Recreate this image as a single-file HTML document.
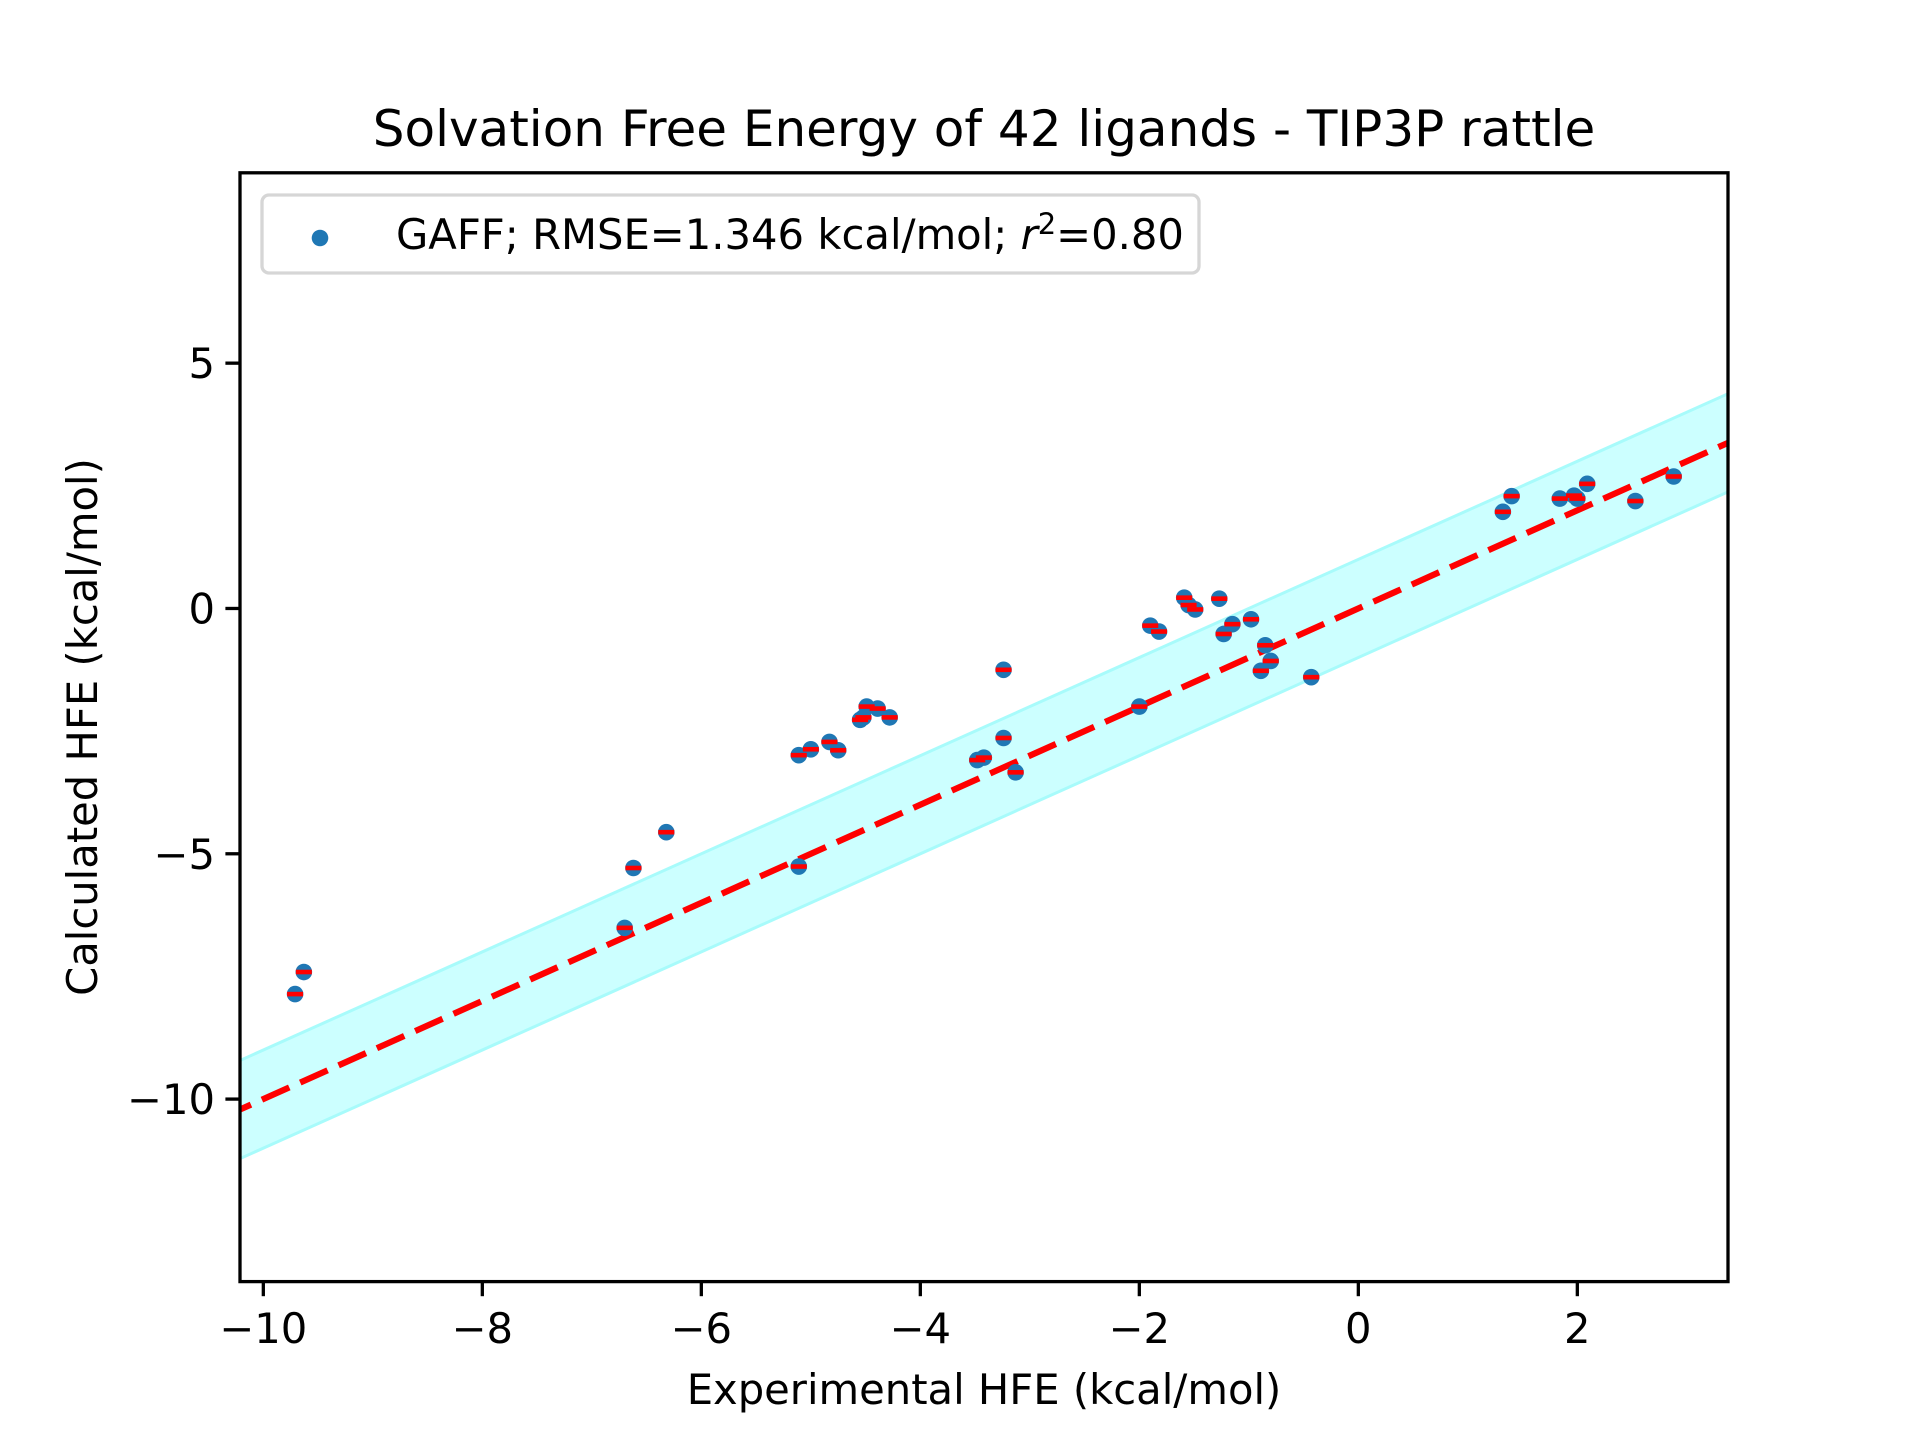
<!DOCTYPE html>
<html><head><meta charset="utf-8"><style>
html,body{margin:0;padding:0;background:#fff;}
svg{display:block;font-family:"DejaVu Sans","Liberation Sans",sans-serif;}
</style></head><body>
<svg id="chart" width="1920" height="1440" viewBox="0 0 1920 1440" xmlns="http://www.w3.org/2000/svg">
<rect width="1920" height="1440" fill="#fff"/>
<text x="984" y="146" font-size="50" text-anchor="middle">Solvation Free Energy of 42 ligands - TIP3P rattle</text>
<g id="plot"></g>
<text x="984" y="1404" font-size="41.7" text-anchor="middle">Experimental HFE (kcal/mol)</text>
<text transform="translate(97,727) rotate(-90)" font-size="41.7" text-anchor="middle">Calculated HFE (kcal/mol)</text>
</svg>
<script>
const expX = [-9.71,-9.63,-6.70,-6.62,-6.32,-5.11,-5.11,-5.00,-4.83,-4.75,-4.55,-4.49,-4.39,-4.28,-3.48,-3.42,-3.24,-3.24,-3.13,-2.00,-1.90,-1.82,-1.59,-1.55,-1.49,-1.27,-1.23,-1.15,-0.98,-0.89,-0.85,-0.80,-0.43,1.32,1.40,1.84,2.00,2.09,2.53,2.88,1.97,-4.52];
const calcY = [-7.86,-7.41,-6.51,-5.29,-4.56,-2.99,-5.26,-2.87,-2.72,-2.89,-2.27,-2.00,-2.04,-2.22,-3.09,-3.04,-1.25,-2.64,-3.34,-2.00,-0.35,-0.47,0.22,0.07,-0.02,0.20,-0.52,-0.32,-0.22,-1.27,-0.75,-1.07,-1.40,1.97,2.29,2.24,2.24,2.54,2.19,2.69,2.30,-2.22];
const xTicks = [-10,-8,-6,-4,-2,0,2];
const yTicks = [5,0,-5,-10];
const fitSlope = [1.0];
const fitIntercept = [0.0];
const bandHalf = [1.0];
const xDomain = [-10.213, 3.376];
const yDomain = [-13.72, 8.88];

const L=240,R=1728,T=172.8,B=1281.6;
const sx = v => L + (v - xDomain[0]) / (xDomain[1]-xDomain[0]) * (R-L);
const sy = v => B - (v - yDomain[0]) / (yDomain[1]-yDomain[0]) * (B-T);
const NS="http://www.w3.org/2000/svg";
const g=document.getElementById('plot');
function mk(tag, attrs){const e=document.createElementNS(NS,tag);for(const k in attrs)e.setAttribute(k,attrs[k]);g.appendChild(e);return e;}

const defs=mk('defs',{});
const cp=document.createElementNS(NS,'clipPath');cp.setAttribute('id','clip');
const cr=document.createElementNS(NS,'rect');cr.setAttribute('x',L);cr.setAttribute('y',T);cr.setAttribute('width',R-L);cr.setAttribute('height',B-T);
cp.appendChild(cr);defs.appendChild(cp);

const fy = x => fitSlope[0]*x + fitIntercept[0];
const x0=xDomain[0]-0.5, x1=xDomain[1]+0.5;
const band=mk('polygon',{points:`${sx(x0)},${sy(fy(x0)+bandHalf[0])} ${sx(x1)},${sy(fy(x1)+bandHalf[0])} ${sx(x1)},${sy(fy(x1)-bandHalf[0])} ${sx(x0)},${sy(fy(x0)-bandHalf[0])}`,fill:'#ccffff',stroke:'#a8fbfb','stroke-width':3,'clip-path':'url(#clip)'});



const fit=mk('line',{x1:sx(x0),y1:sy(fy(x0)),x2:sx(x1),y2:sy(fy(x1)),stroke:'#ff0000','stroke-width':6.2,'stroke-dasharray':'30 12','clip-path':'url(#clip)'});



for(let i=0;i<expX.length;i++){
  const c=mk('circle',{cx:sx(expX[i]),cy:sy(calcY[i]),r:8.3,fill:'#1f77b4'});
  
  
}
for(let i=0;i<expX.length;i++){
  const m=mk('rect',{x:sx(expX[i])-8,y:sy(calcY[i])-2.3,width:16,height:4.6,fill:'#ff0000'});
  
  
}

const fr=mk('rect',{x:L,y:T,width:R-L,height:B-T,fill:'none',stroke:'#000','stroke-width':3.3});



xTicks.forEach(t=>{
  const x=sx(t);
  const tk=mk('line',{x1:x,y1:B,x2:x,y2:B+14.6,stroke:'#000','stroke-width':3.3});
  
  
  const tx=mk('text',{x:x,y:1343,'font-size':41.7,'text-anchor':'middle'});
  tx.textContent=(t<0?'\u2212'+(-t):String(t));
  
  
});
yTicks.forEach(t=>{
  const y=sy(t);
  const tk=mk('line',{x1:L,y1:y,x2:L-14.6,y2:y,stroke:'#000','stroke-width':3.3});
  
  
  const tx=mk('text',{x:L-25,y:y+15,'font-size':41.7,'text-anchor':'end'});
  tx.textContent=(t<0?'\u2212'+(-t):String(t));
  
  
});

const lg=mk('rect',{x:262,y:195,width:937,height:78,rx:7,fill:'#fff','fill-opacity':0.8,stroke:'#d6d6d6','stroke-width':3.3});


const lm=mk('circle',{cx:320,cy:238,r:8.3,fill:'#1f77b4'});


const lt=mk('text',{x:396,y:249,'font-size':41.7});
lt.innerHTML='GAFF; RMSE=1.346 kcal/mol; <tspan font-style="italic">r</tspan><tspan dy="-15" font-size="29">2</tspan><tspan dy="15">=0.80</tspan>';


</script>
</body></html>
